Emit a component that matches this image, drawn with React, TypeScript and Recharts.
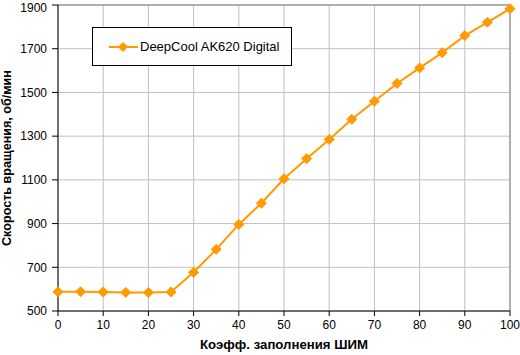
import React from 'react';
import { LineChart, Line, XAxis, YAxis, CartesianGrid, ReferenceLine } from 'recharts';

const pwm = [0, 5, 10, 15, 20, 25, 30, 35, 40, 45, 50, 55, 60, 65, 70, 75, 80, 85, 90, 95, 100];
const rpm = [588, 588, 587, 585, 585, 587, 677, 782, 896, 993, 1105, 1197, 1285, 1377, 1460, 1541, 1612, 1682, 1760, 1821, 1883];
const xTicks = [0, 10, 20, 30, 40, 50, 60, 70, 80, 90, 100];
const yTicks = [500, 700, 900, 1100, 1300, 1500, 1700, 1900];
const seriesName = 'DeepCool AK620 Digital';
const xLabel = 'Коэфф. заполнения ШИМ';
const yLabel = 'Скорость вращения, об/мин';

const data = pwm.map((p, i) => ({ pwm: p, rpm: rpm[i] }));

const ORANGE = '#FF9A00';
const FONT = 'Arial, "Liberation Sans", sans-serif';

const Diamond = (props: any) => {
  const { cx, cy } = props;
  if (cx == null || cy == null) return null;
  const r = 5;
  return (
    <polygon
      points={`${cx},${cy - r} ${cx + r},${cy} ${cx},${cy + r} ${cx - r},${cy}`}
      fill={ORANGE}
      stroke={ORANGE}
      strokeWidth={1}
    />
  );
};

const LegendBox = () => (
  <div
    style={{
      position: 'absolute',
      left: 92,
      top: 27,
      width: 198,
      height: 37,
      border: '1px solid #000',
      background: '#fff',
      display: 'flex',
      alignItems: 'center',
      fontFamily: FONT,
      fontSize: 13,
      color: '#000',
    }}
  >
    <svg width={47} height={14} style={{ flex: 'none' }}>
      <line x1={16} y1={7} x2={45} y2={7} stroke={ORANGE} strokeWidth={2} />
      <polygon points="30,2 35,7 30,12 25,7" fill={ORANGE} />
    </svg>
    <span style={{ whiteSpace: 'nowrap' }}>{seriesName}</span>
  </div>
);

const YLabel = (props: any) => {
  const vb = props.viewBox || {};
  const cy = (vb.y ?? 0) + (vb.height ?? 0) / 2;
  const cx = 7;
  return (
    <text
      x={cx}
      y={cy}
      transform={`rotate(-90, ${cx}, ${cy})`}
      textAnchor="middle"
      dominantBaseline="central"
      fontFamily={FONT}
      fontSize={12.6}
      fontWeight="bold"
      fill="#000"
    >
      {yLabel}
    </text>
  );
};

const XLabel = (props: any) => {
  const vb = props.viewBox || {};
  const cx = (vb.x ?? 0) + (vb.width ?? 0) / 2;
  return (
    <text
      x={cx}
      y={349}
      textAnchor="middle"
      fontFamily={FONT}
      fontSize={13.2}
      fontWeight="bold"
      fill="#000"
    >
      {xLabel}
    </text>
  );
};

export default function App() {
  return (
    <div style={{ position: 'absolute', left: 0, top: 0, width: 520, height: 355, background: '#fff' }}>
      <LineChart width={520} height={355} data={data} margin={{ top: 5, right: 10, left: 0, bottom: 0 }}>
        <CartesianGrid stroke="#c0c0c0" strokeWidth={1} />
        <XAxis
          dataKey="pwm"
          type="number"
          domain={[0, 100]}
          ticks={xTicks}
          height={44}
          tickSize={5}
          tickMargin={4}
          stroke="#000"
          tick={{ fill: '#000', fontSize: 12, fontFamily: FONT }}
          label={<XLabel />}
        />
        <YAxis
          type="number"
          domain={[500, 1900]}
          ticks={yTicks}
          width={58}
          tickSize={6}
          tickMargin={5}
          stroke="#000"
          tick={{ fill: '#000', fontSize: 12, fontFamily: FONT }}
          label={<YLabel />}
        />
        <ReferenceLine y={1900} stroke="#808080" />
        <ReferenceLine x={100} stroke="#808080" />
        <Line
          type="linear"
          dataKey="rpm"
          name={seriesName}
          stroke={ORANGE}
          strokeWidth={2}
          dot={<Diamond />}
          activeDot={false}
          isAnimationActive={false}
        />
      </LineChart>
      <LegendBox />
    </div>
  );
}
